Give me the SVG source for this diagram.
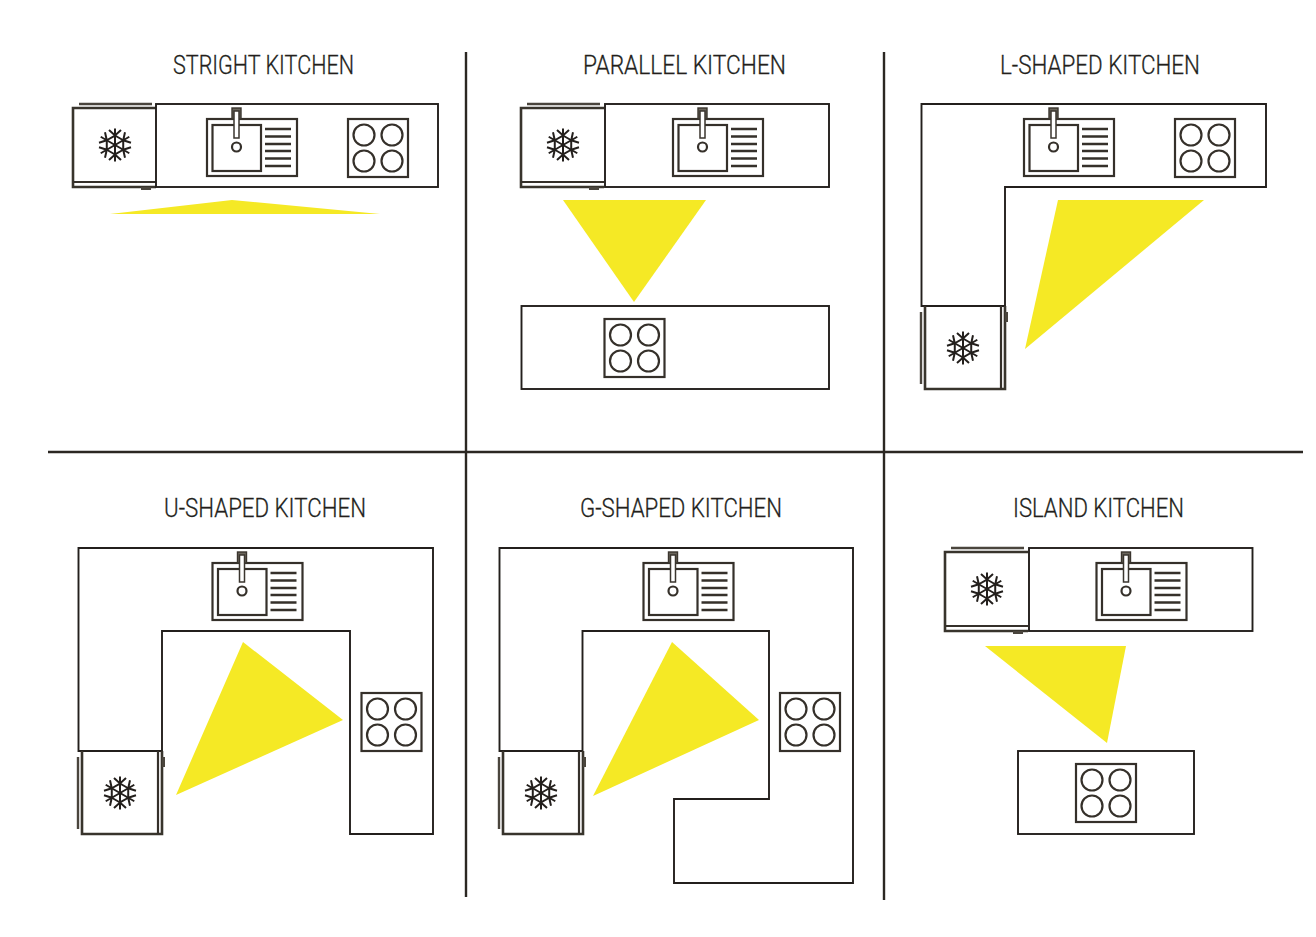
<svg xmlns="http://www.w3.org/2000/svg" xmlns:xlink="http://www.w3.org/1999/xlink" width="1316" height="937" viewBox="0 0 1316 937">
<style>
.l{fill:none;stroke:#2b2722;stroke-width:2.400}
.c{fill:none;stroke:#231f1c;stroke-width:1.900}
.m{fill:none;stroke:#35302a;stroke-width:2.200}
.s{fill:none;stroke:#35302a;stroke-width:2.600}
.b{fill:none;stroke:#4a453d;stroke-width:2.400}
.d{fill:none;stroke:#38342c;stroke-width:2.600}
.t{fill:#f5e925;stroke:none}
.h{font-family:"Roboto","Liberation Sans",sans-serif;font-size:25px;font-weight:300;fill:#231f1c;stroke:#231f1c;stroke-width:.3;text-anchor:start}
</style>
<defs>
<g id="flake">
<g fill="none" stroke="#231f1c" stroke-width="2">
<g id="arm"><path d="M0 0V-16.500M-6 -15L0 -9.500L6 -15M0 -9.500L8.200 -4.750"/></g>
<use href="#arm" transform="rotate(60)"/><use href="#arm" transform="rotate(120)"/><use href="#arm" transform="rotate(180)"/><use href="#arm" transform="rotate(240)"/><use href="#arm" transform="rotate(300)"/>
</g>
</g>
<g id="sink">
<rect class="m" x="0" y="0" width="90" height="57"/>
<rect class="m" x="5.500" y="6" width="48.500" height="46"/>
<path class="s" d="M58 10H84M58 17.500H84M58 25H84M58 32H84M58 39.500H84M58 47H84"/>
<circle class="m" cx="29.500" cy="28" r="4.500"/>
<rect x="25" y="-11" width="9" height="11" fill="#6b665c" stroke="#3a352e" stroke-width="1.400"/>
<rect x="27" y="-8" width="5" height="27" fill="#fff" stroke="#3a352e" stroke-width="1.500"/>
</g>
<g id="hob">
<rect class="m" x="0" y="0" width="60" height="58"/>
<circle class="m" cx="16" cy="16" r="10.500"/><circle class="m" cx="44" cy="16" r="10.500"/><circle class="m" cx="16" cy="42" r="10.500"/><circle class="m" cx="44" cy="42" r="10.500"/>
</g>
<g id="fridgeH">
<path class="b" d="M6 0H79"/>
<path class="d" d="M83 4H0V83H83"/>
<path class="m" d="M0 78H83"/>
<path d="M68 84.500H78" stroke="#4a453d" stroke-width="3" fill="none"/>
<use href="#flake" x="42" y="41"/>
</g>
<g id="fridgeV">
<path class="b" d="M0 6V78"/>
<path class="d" d="M4 0V83H84V0"/>
<path class="m" d="M80 0V83"/>
<path d="M85.500 6V16" stroke="#4a453d" stroke-width="3" fill="none"/>
<use href="#flake" x="42" y="42"/>
</g>
</defs>

<g id="connectors">
<path class="l" d="M466 52V897M884 52V900M48 452H1303"/>
</g>

<g id="stright-kitchen">
<text class="h" x="173" y="74" textLength="181" lengthAdjust="spacingAndGlyphs">STRIGHT KITCHEN</text>
<polygon class="t" points="110,214 232,200 380,214"/>
<use href="#fridgeH" x="73" y="104"/>
<rect class="c" x="156" y="104" width="282" height="83"/>
<use href="#sink" x="207" y="119"/>
<use href="#hob" x="348" y="119"/>
</g>

<g id="parallel-kitchen">
<text class="h" x="583" y="74" textLength="203" lengthAdjust="spacingAndGlyphs">PARALLEL KITCHEN</text>
<polygon class="t" points="563,200 706,200 634,302"/>
<use href="#fridgeH" x="521" y="104"/>
<rect class="c" x="605" y="104" width="224" height="83"/>
<use href="#sink" x="673" y="119"/>
<rect class="c" x="521.500" y="306" width="307.500" height="83"/>
<use href="#hob" x="604.500" y="319"/>
</g>

<g id="l-shaped-kitchen">
<text class="h" x="1000" y="74" textLength="200" lengthAdjust="spacingAndGlyphs">L-SHAPED KITCHEN</text>
<polygon class="t" points="1058,200 1204,200 1025,349"/>
<path class="c" d="M921.500 306V104H1266V187H1005V306Z"/>
<use href="#sink" x="1024" y="119"/>
<use href="#hob" x="1175" y="119"/>
<use href="#fridgeV" x="921" y="306"/>
</g>

<g id="u-shaped-kitchen">
<text class="h" x="164" y="517" textLength="202" lengthAdjust="spacingAndGlyphs">U-SHAPED KITCHEN</text>
<polygon class="t" points="243,642 343,720 176,795"/>
<path class="c" d="M78.500 751V548H433V834H350V631H162V751Z"/>
<use href="#sink" x="212.500" y="563"/>
<use href="#hob" x="361.500" y="693"/>
<use href="#fridgeV" x="78" y="751"/>
</g>

<g id="g-shaped-kitchen">
<text class="h" x="580" y="517" textLength="202" lengthAdjust="spacingAndGlyphs">G-SHAPED KITCHEN</text>
<polygon class="t" points="672,642 759,720 593,796"/>
<path class="c" d="M499.500 751V548H853V883H674V799H769V631H582.500V751Z"/>
<use href="#sink" x="643.500" y="563"/>
<use href="#hob" x="780" y="693"/>
<use href="#fridgeV" x="499" y="751"/>
</g>

<g id="island-kitchen">
<text class="h" x="1013" y="517" textLength="171" lengthAdjust="spacingAndGlyphs">ISLAND KITCHEN</text>
<polygon class="t" points="985,646 1126,646 1107,743"/>
<use href="#fridgeH" x="945" y="548"/>
<rect class="c" x="1029" y="548" width="223.500" height="83"/>
<use href="#sink" x="1096.500" y="563"/>
<rect class="c" x="1018" y="751" width="176" height="83"/>
<use href="#hob" x="1076" y="764"/>
</g>
</svg>
